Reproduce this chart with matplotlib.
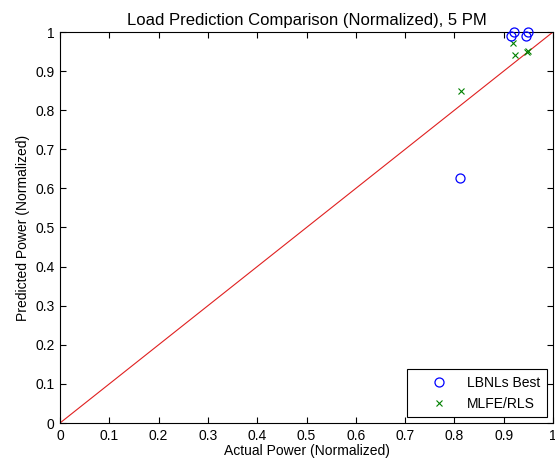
import matplotlib.pyplot as plt
import numpy as np

plt.rcParams['font.family'] = ['Liberation Sans', 'DejaVu Sans']
plt.rcParams['font.size'] = 10

# LBNL best predictions (actual, predicted)
lbnl_actual = [0.812, 0.915, 0.92, 0.945, 0.95]
lbnl_pred = [0.627, 0.99, 1.0, 0.99, 1.0]

# MLFE/RLS predictions (actual, predicted)
mlfe_actual = [0.814, 0.919, 0.923, 0.947, 0.95]
mlfe_pred = [0.849, 0.972, 0.941, 0.949, 0.952]

ref_line = [0, 1]
ticks = np.round(np.arange(0, 1.01, 0.1), 1)
tick_labels = ['0', '0.1', '0.2', '0.3', '0.4', '0.5', '0.6', '0.7', '0.8', '0.9', '1']

fig = plt.figure(figsize=(5.55, 4.65), dpi=100)
ax = fig.add_axes([60 / 555, 42 / 465, 493 / 555, 391 / 465])

ax.plot(ref_line, ref_line, color='#e02020', linewidth=0.8)
ax.plot(lbnl_actual, lbnl_pred, 'o', markerfacecolor='none', markeredgecolor='#0000ff',
        markersize=6.5, markeredgewidth=0.9, label='LBNLs Best', linestyle='none',
        clip_on=False, zorder=5)
ax.plot(mlfe_actual, mlfe_pred, 'x', color='#008000', markersize=4,
        markeredgewidth=0.8, label='MLFE/RLS', linestyle='none', clip_on=False)

ax.set_xlim(0, 1)
ax.set_ylim(0, 1)
ax.set_xticks(ticks)
ax.set_xticklabels(tick_labels)
ax.set_yticks(ticks)
ax.set_yticklabels(tick_labels)
ax.tick_params(direction='in', top=True, right=True, length=4.5, width=0.8, pad=4)
for s in ax.spines.values():
    s.set_linewidth(0.8)

ax.set_title('Load Prediction Comparison (Normalized), 5 PM', pad=5)
ax.set_xlabel('Actual Power (Normalized)', labelpad=1)
ax.set_ylabel('Predicted Power (Normalized)', labelpad=4)

leg = ax.legend(loc='lower right', fancybox=False, framealpha=1, edgecolor='black',
                borderaxespad=0.4, handlelength=3.7, handletextpad=0.15,
                labelspacing=0.45, borderpad=0.5)
leg.get_frame().set_linewidth(0.8)

plt.savefig('out.png', dpi=100)
plt.close()
